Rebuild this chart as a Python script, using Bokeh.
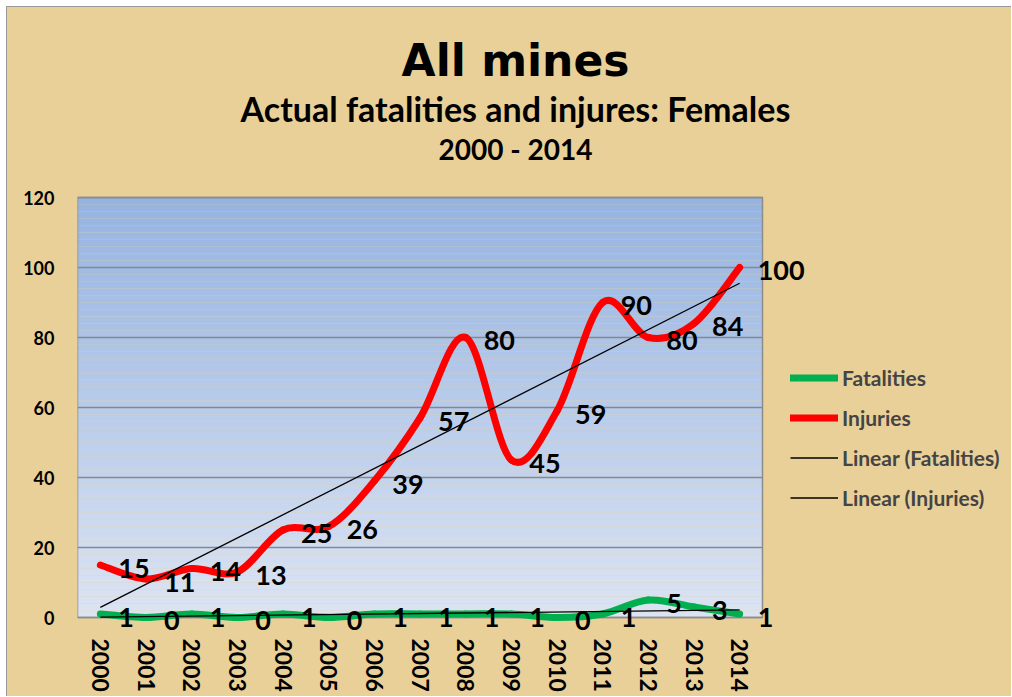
import numpy as np
from bokeh.plotting import figure
from bokeh.models import (Range1d, FixedTicker, Legend, LegendItem,
                          ColumnDataSource, LabelSet, Label)
from bokeh.core.properties import value
from bokeh.embed import file_html
from bokeh.resources import INLINE

# ---------------- data ----------------
years = [2000, 2001, 2002, 2003, 2004, 2005, 2006, 2007, 2008, 2009, 2010, 2011, 2012, 2013, 2014]
fatalities = [1, 0, 1, 0, 1, 0, 1, 1, 1, 1, 0, 1, 5, 3, 1]
injuries = [15, 11, 14, 13, 25, 26, 39, 57, 80, 45, 59, 90, 80, 84, 100]
y_ticks = [0, 20, 40, 60, 80, 100, 120]

title_main = "All mines"
title_sub = "Actual fatalities and injures: Females"
title_period = "2000 - 2014"

PAPYRUS = "#E9D099"
FONT = "Lato"

W, H = 1005, 690
LEFT, BOTTOM = 70, 65
PX_X = 685 / 15.0      # pixels per year in the plot area
PX_Y = 420 / 120.0     # pixels per unit
BELOW0 = 15            # px of frame below the value 0
frame_w = W - LEFT
frame_h = H - BOTTOM
x0 = years[0] - 0.5
x_end = years[-1] + 0.5
y_top = y_ticks[-1]
y_start = -BELOW0 / PX_Y

p = figure(width=W, height=H, output_backend="svg", toolbar_location=None,
           x_range=Range1d(x0, x0 + frame_w / PX_X),
           y_range=Range1d(y_start, y_start + frame_h / PX_Y),
           min_border_left=LEFT, min_border_right=0, min_border_top=0,
           min_border_bottom=BOTTOM,
           styles={"background-color": PAPYRUS,
                   "border-top": "1px solid #9a9a9a",
                   "border-left": "1px solid #9a9a9a"})
p.margin = (6, 0, 0, 6)
p.border_fill_color = None
p.background_fill_color = None
p.outline_line_color = None
p.xgrid.visible = False
p.ygrid.visible = False

# gradient plot-area background (styling only)
n = 120
edges = np.linspace(0, y_top, n + 1)
top_c = np.array([0x95, 0xB3, 0xE1])
bot_c = np.array([0xDC, 0xE4, 0xF3])
cols = []
for i in range(n):
    t = (edges[i] + edges[i + 1]) / 2 / y_top
    c = bot_c + (top_c - bot_c) * t
    cols.append("#%02x%02x%02x" % tuple(int(round(v)) for v in c))
p.quad(left=x0, right=x_end, bottom=edges[:-1], top=edges[1:],
       fill_color=cols, line_color=None)
# horizontal gridlines across the plot area
p.segment(x0=[x0] * len(y_ticks), x1=[x_end] * len(y_ticks), y0=y_ticks, y1=y_ticks,
          line_color="#888888", line_width=1.5)
# plot-area border
p.quad(left=x0, right=x_end, bottom=0, top=y_top, fill_color=None,
       line_color="#8C8C8C", line_width=1.5)

# axes
p.yaxis.ticker = FixedTicker(ticks=y_ticks)
p.xaxis.ticker = FixedTicker(ticks=years)
for ax in (p.xaxis[0], p.yaxis[0]):
    ax.axis_line_color = None
    ax.major_tick_line_color = None
    ax.minor_tick_line_color = None
    ax.major_label_text_font = FONT
    ax.major_label_text_font_style = "bold"
    ax.major_label_text_color = "black"
p.yaxis.major_label_text_font_size = "18px"
p.yaxis.major_label_standoff = 17
p.xaxis.major_label_text_font_size = "23px"
p.xaxis.major_label_orientation = -np.pi / 2
p.xaxis.major_label_standoff = 0


def smooth_segments(xs, ys):
    xs = np.asarray(xs, float)
    ys = np.asarray(ys, float)
    xp = np.concatenate([[xs[0]], xs, [xs[-1]]])
    yp = np.concatenate([[ys[0]], ys, [ys[-1]]])
    d = {"x0": [], "y0": [], "x1": [], "y1": [], "cx0": [], "cy0": [], "cx1": [], "cy1": []}
    for i in range(len(xs) - 1):
        j = i + 1
        d["x0"].append(xp[j]); d["y0"].append(yp[j])
        d["x1"].append(xp[j + 1]); d["y1"].append(yp[j + 1])
        d["cx0"].append(xp[j] + (xp[j + 1] - xp[j - 1]) / 6)
        d["cy0"].append(yp[j] + (yp[j + 1] - yp[j - 1]) / 6)
        d["cx1"].append(xp[j + 1] - (xp[j + 2] - xp[j]) / 6)
        d["cy1"].append(yp[j + 1] - (yp[j + 2] - yp[j]) / 6)
    return ColumnDataSource(d)


r_inj = p.bezier(x0="x0", y0="y0", x1="x1", y1="y1", cx0="cx0", cy0="cy0",
                 cx1="cx1", cy1="cy1", source=smooth_segments(years, injuries),
                 line_color="#FF0000", line_width=7, line_cap="round")
r_fat = p.bezier(x0="x0", y0="y0", x1="x1", y1="y1", cx0="cx0", cy0="cy0",
                 cx1="cx1", cy1="cy1", source=smooth_segments(years, fatalities),
                 line_color="#00B050", line_width=7, line_cap="round")

# linear trend lines (least squares fit of each series)
yr = np.array(years, float) - years[0]
kf = np.polyfit(yr, fatalities, 1)
ki = np.polyfit(yr, injuries, 1)
ends = [years[0], years[-1]]
r_tf = p.line(x=ends, y=list(np.polyval(kf, [0, yr[-1]])), line_color="black", line_width=1.3)
r_ti = p.line(x=ends, y=list(np.polyval(ki, [0, yr[-1]])), line_color="black", line_width=1.3)

# data labels
src_i = ColumnDataSource(dict(x=years, y=injuries, t=[str(v) for v in injuries]))
src_f = ColumnDataSource(dict(x=years, y=fatalities, t=[str(v) for v in fatalities]))
for src in (src_i, src_f):
    p.add_layout(LabelSet(x="x", y="y", text="t", source=src, x_offset=18, y_offset=-3,
                          text_align="left", text_baseline="middle",
                          text_font=value(FONT), text_font_style="bold",
                          text_font_size="27px", text_color="black"))

# legend
legend = Legend(items=[
    LegendItem(label="Fatalities", renderers=[r_fat]),
    LegendItem(label="Injuries", renderers=[r_inj]),
    LegendItem(label="Linear (Fatalities)", renderers=[r_tf]),
    LegendItem(label="Linear (Injuries)", renderers=[r_ti]),
], location=(713, 122))
legend.background_fill_alpha = 0
legend.border_line_color = None
legend.padding = 0
legend.margin = 0
legend.glyph_width = 48
legend.glyph_height = 25
legend.label_height = 25
legend.spacing = 15
legend.label_standoff = 4
legend.label_text_font = FONT
legend.label_text_font_style = "bold"
legend.label_text_font_size = "21px"
p.add_layout(legend)

# titles
CX = 438
p.add_layout(Label(x=CX, y=572, x_units="screen", y_units="screen", text=title_main,
                   text_font="DejaVu Sans", text_font_style="bold", text_font_size="44px",
                   text_align="center", text_baseline="middle", text_color="black"))
p.add_layout(Label(x=CX, y=524, x_units="screen", y_units="screen", text=title_sub,
                   text_font=FONT, text_font_style="bold", text_font_size="34px",
                   text_align="center", text_baseline="middle", text_color="black"))
p.add_layout(Label(x=CX, y=484, x_units="screen", y_units="screen", text=title_period,
                   text_font=FONT, text_font_style="bold", text_font_size="28px",
                   text_align="center", text_baseline="middle", text_color="black"))

open("out.html", "w").write(file_html(p, INLINE))
